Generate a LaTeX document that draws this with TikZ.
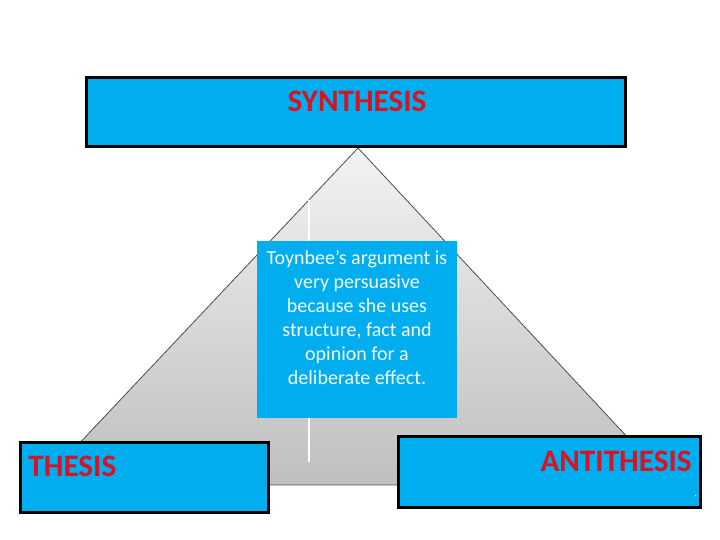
\documentclass[tikz,border=0pt]{standalone}
\usepackage{fontspec}
\setmainfont{Carlito}
\usepackage{tikz}
\usetikzlibrary{positioning}
\definecolor{boxcyan}{RGB}{0,174,239}
\definecolor{labelred}{RGB}{214,20,36}

\begin{document}
\begin{tikzpicture}[
    x=0.5pt, y=-0.5pt,
    mybox/.style={draw=black, line width=1.5pt, fill=boxcyan, inner sep=0pt},
    midbox/.style={fill=boxcyan, inner sep=0pt, minimum width=100pt, minimum height=88.5pt},
    mylabel/.style={text=labelred, inner sep=0pt, font=\bfseries\fontsize{15.6}{19}\selectfont},
    midtext/.style={text=white!95!boxcyan, inner sep=0pt, align=center, font=\fontsize{10}{12}\selectfont}
]
\useasboundingbox (0,0) rectangle (720,540);

% shaded triangle behind the boxes
\path[draw=black!70, line width=0.4pt, top color=black!5, bottom color=black!25]
    (358,148) -- (672,485) -- (40,485) -- cycle;
\draw[white, line width=0.8pt] (309,200) -- (309,462);

\node[mybox, minimum width=269.5pt, minimum height=34.5pt] (synth) at (356.5,112.5) {};
\node[mybox, minimum width=124pt, minimum height=35pt] (thesis) at (145,478) {};
\node[mybox, minimum width=151pt, minimum height=35.5pt] (anti) at (550,472.5) {};
\node[midbox] (mid) at (357,329.5) {};

\node[mylabel] (synthlabel) at (357,101) {SYNTHESIS};
\node[mylabel, anchor=west] (thesislabel) at (28,466) {THESIS};
\node[mylabel, anchor=east] (antilabel) at (692,461) {ANTITHESIS};
\node[text=white, inner sep=0pt, font=\tiny] (dot) at (696,496) {.};

\node[midtext] (argument) at (357,318) {Toynbee’s argument is\\very persuasive\\because she uses\\structure, fact and\\opinion for a\\deliberate effect.};
\end{tikzpicture}
\end{document}
